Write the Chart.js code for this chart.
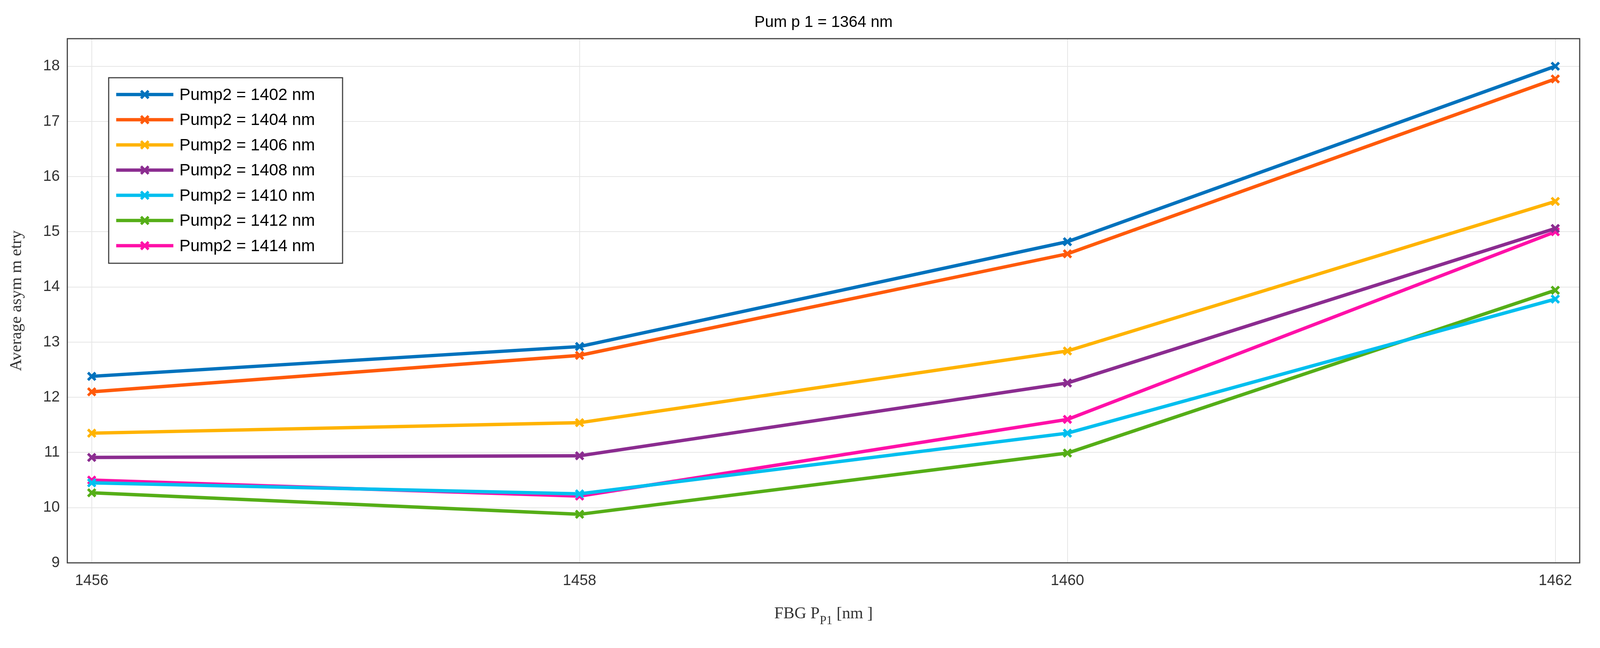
<!doctype html>
<html lang="en">
<head>
<meta charset="utf-8">
<script src="https://cdn.jsdelivr.net/npm/chart.js"></script>
<title>Pump1 = 1364 nm</title>
<style>
  html, body { margin: 0; padding: 0; background: #fff; overflow: hidden; }
  #wrap { position: relative; width: 100vw; height: 100vh; }
</style>
</head>
<body>
<div id="wrap"><canvas id="chart"></canvas></div>
<script>
// ---- data ----
const fbg = [1456, 1458, 1460, 1462];
const pump1402 = [12.38, 12.92, 14.82, 18.0];
const pump1404 = [12.10, 12.76, 14.60, 17.77];
const pump1406 = [11.35, 11.54, 12.84, 15.55];
const pump1408 = [10.91, 10.94, 12.26, 15.06];
const pump1410 = [10.45, 10.25, 11.35, 13.78];
const pump1412 = [10.27, 9.88, 10.99, 13.94];
const pump1414 = [10.50, 10.21, 11.60, 15.00];
const seriesNames = ['Pump2 = 1402 nm', 'Pump2 = 1404 nm', 'Pump2 = 1406 nm', 'Pump2 = 1408 nm',
                     'Pump2 = 1410 nm', 'Pump2 = 1412 nm', 'Pump2 = 1414 nm'];
const seriesValues = [pump1402, pump1404, pump1406, pump1408, pump1410, pump1412, pump1414];
const colors = ['#0072BD', '#FF5A0A', '#FFB300', '#8B2C90', '#00BFEF', '#55AE17', '#FF10A8'];
const yTicks = [9, 10, 11, 12, 13, 14, 15, 16, 17, 18];

const FONT = '"Liberation Sans Narrow", "Liberation Sans", Arial, sans-serif';
const W0 = 4255, H0 = 1659;
const k = () => window.innerWidth / W0;

const datasets = seriesNames.map((name, i) => ({
  label: name,
  data: fbg.map((x, j) => ({ x: x, y: seriesValues[i][j] })),
  borderColor: colors[i],
  backgroundColor: colors[i],
  borderWidth: 9 * k(),
  pointStyle: 'crossRot',
  pointRadius: 14 * k(),
  pointBorderWidth: 7 * k(),
  tension: 0
}));

// frame, title, axis titles and inside legend
const decor = {
  id: 'decor',
  afterDraw(chart) {
    const ctx = chart.ctx, a = chart.chartArea;
    const sx = chart.width / W0, sy = chart.height / H0;
    ctx.save();
    ctx.strokeStyle = '#404040';
    ctx.lineWidth = 3 * sx;
    ctx.strokeRect(a.left, a.top, a.right - a.left, a.bottom - a.top);

    ctx.fillStyle = '#000';
    ctx.textAlign = 'center';
    ctx.textBaseline = 'middle';
    ctx.font = (42 * sx) + 'px ' + FONT;
    ctx.fillText('Pum p 1 = 1364 nm', (a.left + a.right) / 2, 58 * sy);

    // x title with subscript
    ctx.fillStyle = '#333';
    const big = (44 * sx) + 'px "Liberation Serif", serif';
    const small = (32 * sx) + 'px "Liberation Serif", serif';
    const main = 'FBG P', sub = 'P1', tail = ' [nm ]';
    ctx.textAlign = 'left';
    ctx.font = big;
    const w1 = ctx.measureText(main).width, w3 = ctx.measureText(tail).width;
    ctx.font = small;
    const w2 = ctx.measureText(sub).width;
    const x0 = (a.left + a.right) / 2 - (w1 + w2 + w3) / 2;
    const yb = 1572 * sy;
    ctx.font = big;
    ctx.fillText(main, x0, yb);
    ctx.font = small;
    ctx.fillText(sub, x0 + w1, yb + 18 * sy);
    ctx.font = big;
    ctx.fillText(tail, x0 + w1 + w2, yb);

    // y title
    ctx.save();
    ctx.translate(45 * sx, (a.top + a.bottom) / 2);
    ctx.rotate(-Math.PI / 2);
    ctx.textAlign = 'center';
    ctx.fillText('Average asym m etry', 0, 0);
    ctx.restore();

    // legend
    const lx = 289 * sx, ly = 199 * sy, lw = 622 * sx, lh = 475 * sy;
    ctx.fillStyle = '#fff';
    ctx.fillRect(lx, ly, lw, lh);
    ctx.strokeStyle = '#404040';
    ctx.lineWidth = 3 * sx;
    ctx.strokeRect(lx, ly, lw, lh);
    ctx.font = (44 * sx) + 'px ' + FONT;
    ctx.textBaseline = 'middle';
    ctx.textAlign = 'left';
    chart.data.datasets.forEach((ds, i) => {
      const y = ly + (43 + i * 64.5) * sy;
      ctx.strokeStyle = ds.borderColor;
      ctx.lineWidth = 9 * sx;
      ctx.beginPath();
      ctx.moveTo(lx + 20 * sx, y);
      ctx.lineTo(lx + 172 * sx, y);
      ctx.stroke();
      ctx.lineWidth = 7 * sx;
      const cx = lx + 96 * sx, r = 10 * sx;
      ctx.beginPath();
      ctx.moveTo(cx - r, y - r); ctx.lineTo(cx + r, y + r);
      ctx.moveTo(cx - r, y + r); ctx.lineTo(cx + r, y - r);
      ctx.stroke();
      ctx.fillStyle = '#000';
      ctx.fillText(ds.label, lx + 188 * sx, y + 2 * sy);
    });
    ctx.restore();
  }
};

new Chart(document.getElementById('chart'), {
  type: 'line',
  data: { datasets: datasets },
  plugins: [decor],
  options: {
    responsive: true,
    maintainAspectRatio: false,
    animation: false,
    layout: {
      padding: ctx => ({ left: 0, right: 54 * ctx.chart.width / W0, top: 99 * ctx.chart.height / H0, bottom: 0 })
    },
    plugins: { legend: { display: false }, title: { display: false }, tooltip: { enabled: false } },
    scales: {
      x: {
        type: 'linear',
        min: 1455.9,
        max: 1462.1,
        afterBuildTicks: s => { s.ticks = fbg.map(v => ({ value: v })); },
        afterFit: s => { s.height = 218 * s.chart.height / H0; },
        grid: { color: '#e6e6e6', lineWidth: 2, drawTicks: false },
        border: { display: false },
        ticks: {
          color: '#333', font: { size: 40 * k(), family: FONT }, padding: 24 * k(), maxRotation: 0,
          callback: v => String(v)
        }
      },
      y: {
        min: 9,
        max: 18.5,
        afterBuildTicks: s => { s.ticks = yTicks.map(v => ({ value: v })); },
        afterFit: s => { s.width = 179 * s.chart.width / W0; },
        grid: { color: '#e6e6e6', lineWidth: 2, drawTicks: false },
        border: { display: false },
        ticks: { color: '#333', font: { size: 40 * k(), family: FONT }, padding: 20 * k(), callback: v => String(v) }
      }
    }
  }
});
</script>
</body>
</html>
